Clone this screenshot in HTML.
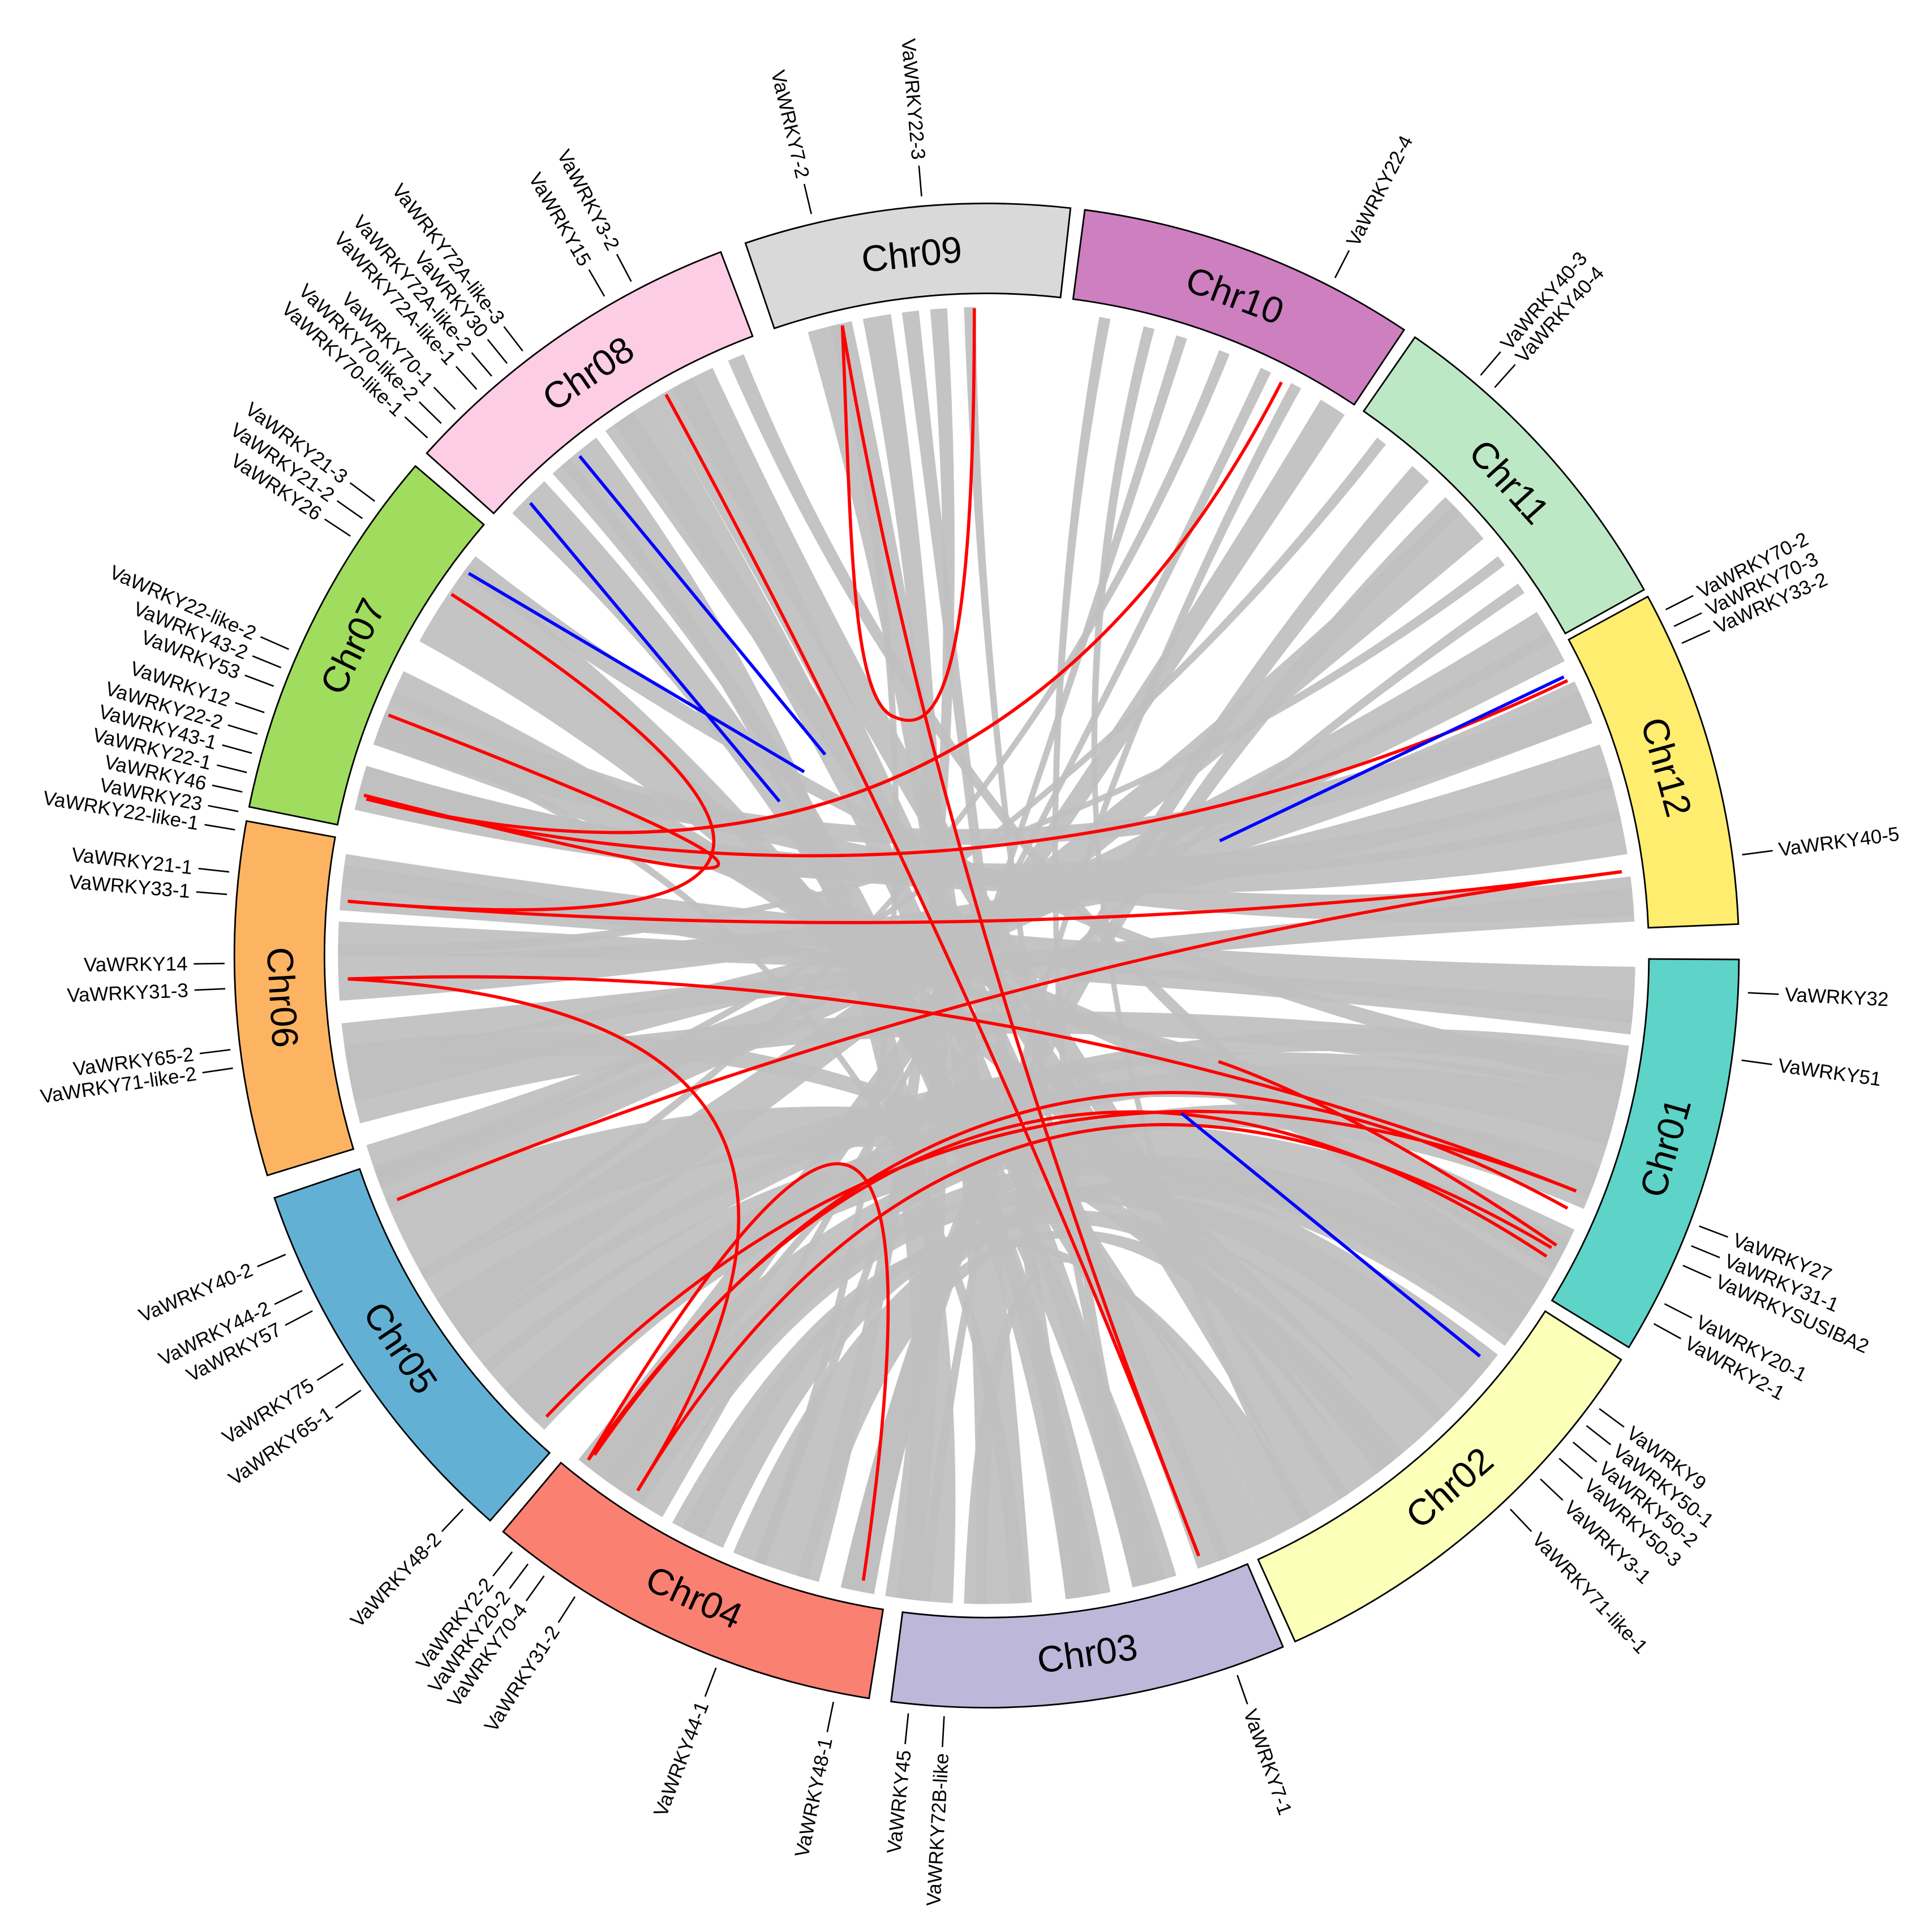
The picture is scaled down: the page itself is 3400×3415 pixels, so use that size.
<!DOCTYPE html>
<html><head><meta charset="utf-8"><style>
html,body{margin:0;padding:0;background:#fff;}
svg{display:block;}
.g{font-family:"Liberation Sans",sans-serif;font-size:16px;fill:#000;}
.c{font-family:"Liberation Sans",sans-serif;font-size:30px;fill:#000;}
</style></head><body>
<svg id="s" xmlns="http://www.w3.org/2000/svg" width="3400" height="3415" viewBox="0 0 1560 1567">
<rect width="1560" height="1567" fill="#fff"/>
<g id="rib"></g>
<g id="links" fill="none" stroke-width="2.6">
<path stroke="#f00" d="M683,264 Q760,720 972,1262"/>
<path stroke="#f00" d="M540,320 Q780,760 972,1262"/>
<path stroke="#f00" d="M790,250 C790,560 760,600 722,580 C690,560 690,430 683,264"/>
<path stroke="#f00" d="M1039,310 Q800,775 297,648"/>
<path stroke="#f00" d="M366,482 Q830,780 282,731"/>
<path stroke="#f00" d="M315,580 Q860,790 295,645"/>
<path stroke="#f00" d="M297,648 Q800,775 1271,552"/>
<path stroke="#f00" d="M282,731 Q800,775 1315,707"/>
<path stroke="#f00" d="M282,794 Q800,775 1278,966"/>
<path stroke="#f00" d="M282,794 Q760,820 517,1209"/>
<path stroke="#f00" d="M322,973 Q800,775 1315,707"/>
<path stroke="#f00" d="M443,1149 Q800,775 1278,966"/>
<path stroke="#f00" d="M477,1184 Q800,720 1254,1019"/>
<path stroke="#f00" d="M482,1180 Q800,720 1271,980"/>
<path stroke="#f00" d="M517,1209 Q800,740 1258,1012"/>
<path stroke="#f00" d="M477,1184 Q790,659 700,1282"/>
<path stroke="#f00" d="M988,861 Q1100,900 1262,1010"/>
<path stroke="#00f" d="M430,408 L632,650"/>
<path stroke="#00f" d="M470,370 L669,612"/>
<path stroke="#00f" d="M380,465 L652,626"/>
<path stroke="#00f" d="M989,682 L1268,549"/>
<path stroke="#00f" d="M958,903 L1200,1100"/>
</g>
<g id="chr" stroke="#000" stroke-width="1.3"></g>
<g class="c" text-anchor="middle" dominant-baseline="central">
<text transform="translate(800,775) rotate(-6.1) translate(0,-572)">Chr09</text>
<text transform="translate(800,775) rotate(20.6) translate(0,-572)">Chr10</text>
<text transform="translate(800,775) rotate(47.8) translate(0,-572)">Chr11</text>
<text transform="translate(800,775) rotate(74.5) translate(0,-572)">Chr12</text>
<text transform="translate(800,775) rotate(105.8) translate(0,-572) rotate(180)">Chr01</text>
<text transform="translate(800,775) rotate(139) translate(0,-572) rotate(180)">Chr02</text>
<text transform="translate(800,775) rotate(171.8) translate(0,-572) rotate(180)">Chr03</text>
<text transform="translate(800,775) rotate(204.5) translate(0,-572) rotate(180)">Chr04</text>
<text transform="translate(800,775) rotate(236.2) translate(0,-572) rotate(180)">Chr05</text>
<text transform="translate(800,775) rotate(266.6) translate(0,-572) rotate(180)">Chr06</text>
<text transform="translate(800,775) rotate(-64) translate(0,-572)">Chr07</text>
<text transform="translate(800,775) rotate(-34.4) translate(0,-572)">Chr08</text>
</g>
<g id="ticks" stroke="#000" stroke-width="1.2"></g>
<g class="g" dominant-baseline="central">
<text transform="translate(800,775) rotate(-62.8) translate(648,0)">VaWRKY22-4</text>
<text transform="translate(800,775) rotate(-49.6) translate(648,0)">VaWRKY40-3</text>
<text transform="translate(800,775) rotate(-48.2) translate(648,0)">VaWRKY40-4</text>
<text transform="translate(800,775) rotate(-27) translate(648,0)">VaWRKY70-2</text>
<text transform="translate(800,775) rotate(-25.6) translate(648,0)">VaWRKY70-3</text>
<text transform="translate(800,775) rotate(-24.2) translate(648,0)">VaWRKY33-2</text>
<text transform="translate(800,775) rotate(-7.6) translate(648,0)">VaWRKY40-5</text>
<text transform="translate(800,775) rotate(2.8) translate(648,0)">VaWRKY32</text>
<text transform="translate(800,775) rotate(7.9) translate(648,0)">VaWRKY51</text>
<text transform="translate(800,775) rotate(20.8) translate(648,0)">VaWRKY27</text>
<text transform="translate(800,775) rotate(22.4) translate(648,0)">VaWRKY31-1</text>
<text transform="translate(800,775) rotate(24) translate(648,0)">VaWRKYSUSIBA2</text>
<text transform="translate(800,775) rotate(27.2) translate(648,0)">VaWRKY20-1</text>
<text transform="translate(800,775) rotate(28.9) translate(648,0)">VaWRKY2-1</text>
<text transform="translate(800,775) rotate(36.5) translate(648,0)">VaWRKY9</text>
<text transform="translate(800,775) rotate(38.1) translate(648,0)">VaWRKY50-1</text>
<text transform="translate(800,775) rotate(39.7) translate(648,0)">VaWRKY50-2</text>
<text transform="translate(800,775) rotate(41.3) translate(648,0)">VaWRKY50-3</text>
<text transform="translate(800,775) rotate(43.4) translate(648,0)">VaWRKY3-1</text>
<text transform="translate(800,775) rotate(46.6) translate(648,0)">VaWRKY71-like-1</text>
<text transform="translate(800,775) rotate(70.8) translate(648,0)">VaWRKY7-1</text>
</g>
<g class="g" dominant-baseline="central" text-anchor="end">
<text transform="translate(800,775) rotate(273.2) translate(-648,0)">VaWRKY72B-like</text>
<text transform="translate(800,775) rotate(275.9) translate(-648,0)">VaWRKY45</text>
<text transform="translate(800,775) rotate(281.6) translate(-648,0)">VaWRKY48-1</text>
<text transform="translate(800,775) rotate(290.8) translate(-648,0)">VaWRKY44-1</text>
<text transform="translate(800,775) rotate(302.7) translate(-648,0)">VaWRKY31-2</text>
<text transform="translate(800,775) rotate(305.5) translate(-648,0)">VaWRKY70-4</text>
<text transform="translate(800,775) rotate(307) translate(-648,0)">VaWRKY20-2</text>
<text transform="translate(800,775) rotate(308.5) translate(-648,0)">VaWRKY2-2</text>
<text transform="translate(800,775) rotate(313.4) translate(-648,0)">VaWRKY48-2</text>
<text transform="translate(800,775) rotate(325.2) translate(-648,0)">VaWRKY65-1</text>
<text transform="translate(800,775) rotate(327.6) translate(-648,0)">VaWRKY75</text>
<text transform="translate(800,775) rotate(332.2) translate(-648,0)">VaWRKY57</text>
<text transform="translate(800,775) rotate(333.9) translate(-648,0)">VaWRKY44-2</text>
<text transform="translate(800,775) rotate(336.9) translate(-648,0)">VaWRKY40-2</text>
<text transform="translate(800,775) rotate(351.5) translate(-648,0)">VaWRKY71-like-2</text>
<text transform="translate(800,775) rotate(352.9) translate(-648,0)">VaWRKY65-2</text>
<text transform="translate(800,775) rotate(357.5) translate(-648,0)">VaWRKY31-3</text>
<text transform="translate(800,775) rotate(359.4) translate(-648,0)">VaWRKY14</text>
<text transform="translate(800,775) rotate(364.6) translate(-648,0)">VaWRKY33-1</text>
<text transform="translate(800,775) rotate(366.3) translate(-648,0)">VaWRKY21-1</text>
<text transform="translate(800,775) rotate(369.5) translate(-648,0)">VaWRKY22-like-1</text>
<text transform="translate(800,775) rotate(370.9) translate(-648,0)">VaWRKY23</text>
<text transform="translate(800,775) rotate(372.4) translate(-648,0)">VaWRKY46</text>
<text transform="translate(800,775) rotate(373.9) translate(-648,0)">VaWRKY22-1</text>
<text transform="translate(800,775) rotate(375.4) translate(-648,0)">VaWRKY43-1</text>
<text transform="translate(800,775) rotate(376.9) translate(-648,0)">VaWRKY22-2</text>
<text transform="translate(800,775) rotate(378.6) translate(-648,0)">VaWRKY12</text>
<text transform="translate(800,775) rotate(380.7) translate(-648,0)">VaWRKY53</text>
<text transform="translate(800,775) rotate(382.2) translate(-648,0)">VaWRKY43-2</text>
<text transform="translate(800,775) rotate(383.7) translate(-648,0)">VaWRKY22-like-2</text>
<text transform="translate(800,775) rotate(393.4) translate(-648,0)">VaWRKY26</text>
<text transform="translate(800,775) rotate(395) translate(-648,0)">VaWRKY21-2</text>
<text transform="translate(800,775) rotate(396.6) translate(-648,0)">VaWRKY21-3</text>
<text transform="translate(800,775) rotate(402.8) translate(-648,0)">VaWRKY70-like-1</text>
<text transform="translate(800,775) rotate(404.3) translate(-648,0)">VaWRKY70-like-2</text>
<text transform="translate(800,775) rotate(405.8) translate(-648,0)">VaWRKY70-1</text>
<text transform="translate(800,775) rotate(408) translate(-648,0)">VaWRKY72A-like-1</text>
<text transform="translate(800,775) rotate(409.5) translate(-648,0)">VaWRKY72A-like-2</text>
<text transform="translate(800,775) rotate(411) translate(-648,0)">VaWRKY30</text>
<text transform="translate(800,775) rotate(412.5) translate(-648,0)">VaWRKY72A-like-3</text>
<text transform="translate(800,775) rotate(419.9) translate(-648,0)">VaWRKY15</text>
<text transform="translate(800,775) rotate(422.2) translate(-648,0)">VaWRKY3-2</text>
<text transform="translate(800,775) rotate(436.7) translate(-648,0)">VaWRKY7-2</text>
<text transform="translate(800,775) rotate(445.1) translate(-648,0)">VaWRKY22-3</text>
</g>
<script>
(function(){
var NS="http://www.w3.org/2000/svg",cx=800,cy=775;
function P(a,r){a=a*Math.PI/180;return [cx+r*Math.sin(a),cy-r*Math.cos(a)];}
function f(p){return p[0].toFixed(1)+","+p[1].toFixed(1);}
function el(par,tag,at){var e=document.createElementNS(NS,tag);for(var k in at)e.setAttribute(k,at[k]);document.getElementById(par).appendChild(e);return e;}
var ch=[[-18.7,6.4,"#d9d9d9"],[7.5,33.7,"#cd7fc0"],[34.7,60.9,"#bde8c5"],[61.5,87.6,"#ffed6f"],[90.3,121.4,"#5ed3c8"],[122.5,155.8,"#fbffb8"],[156.8,187.3,"#bdb8d9"],[189,220,"#fa8072"],[221.3,251.2,"#62b1d5"],[253,280.3,"#fdb462"],[281.4,310.6,"#a0dc5e"],[311.9,339.3,"#fccde5"]];
var R1=537,R2=610;
ch.forEach(function(c){
 var d="M"+f(P(c[0],R1))+" L"+f(P(c[0],R2))+" A"+R2+","+R2+" 0 0 1 "+f(P(c[1],R2))+" L"+f(P(c[1],R1))+" A"+R1+","+R1+" 0 0 0 "+f(P(c[0],R1))+"Z";
 el("chr","path",{d:d,fill:c[2]});
});
var rb=[[-16,-12,176,181],[-11,-8.5,186,189],[-7.5,-6,171,173],[-5,-3.5,195,197],[-14,-13,200,201],[-2,-1,165,166],
[10,11,165,166],[14,15,150,151],[17,18,200,201],[21,22,240,241],[25,26,210,211],[28,29,185,186],
[31,33.5,215,219],[37,38,250,251],[41,43,190,193],[46,50,234,240],[52,53,270,271],[55,56,215,216],
[58,63,247,253],[65,69,257,261],[71,75,266,270],[77,81,284,287],[83,86.5,291,294],
[91,96,274,279],[98,101,230,234],[103,107,224,228],[109,113,215,219],[115,119,289,292],
[123,127,199,203],[129,133,211,215],[135,139,204,208],[141,144,259,262],[146,150,324,327],[152,154,180,182],
[158,161,329,333],[163,167,304,307],[170,172,318,320],[176.5,178,290,291],
[190,193,45,47],[196,199,140,143],[206,209,150,152],[212,216,120,124],
[223,231,116,126],[233,238,102,110],[240,248,128,136],[249,250.5,60,61],
[255,259,99,103],[261,264,84,87],[270,273,94,97],[276,278,110,112],
[283,287,74,78],[289,292,66,69],[293,296,139,142],[299,304,154,159],[306,308,100,102],
[313,317,169,173],[319,323,183,188],[325,329,164,167],[331,335,144,147],[336.5,338,120,122]];
var R=526;
rb.forEach(function(q){
 var d="M"+f(P(q[0],R))+" A"+R+","+R+" 0 0 1 "+f(P(q[1],R))+" Q"+cx+","+cy+" "+f(P(q[2],R))+" A"+R+","+R+" 0 0 1 "+f(P(q[3],R))+" Q"+cx+","+cy+" "+f(P(q[0],R))+"Z";
 el("rib","path",{d:d,fill:"#bfbfbf","fill-opacity":"0.92"});
});
var ta=[27.2,40.4,41.8,63,64.4,65.8,82.4,92.8,97.9,110.8,112.4,114,117.2,118.9,126.5,128.1,129.7,131.3,133.4,136.6,160.8,
183.2,185.9,191.6,200.8,212.7,215.5,217,218.5,223.4,235.2,237.6,242.2,243.9,246.9,261.5,262.9,267.5,269.4,274.6,276.3,279.5,280.9,282.4,283.9,285.4,286.9,288.6,290.7,292.2,293.7,303.4,305,306.6,312.8,314.3,315.8,318,319.5,321,322.5,329.9,332.2,346.7,355.1];
ta.forEach(function(a){var p1=P(a,618),p2=P(a,643);el("ticks","line",{x1:p1[0],y1:p1[1],x2:p2[0],y2:p2[1]});});
})();
</script>
</svg>
</body></html>
